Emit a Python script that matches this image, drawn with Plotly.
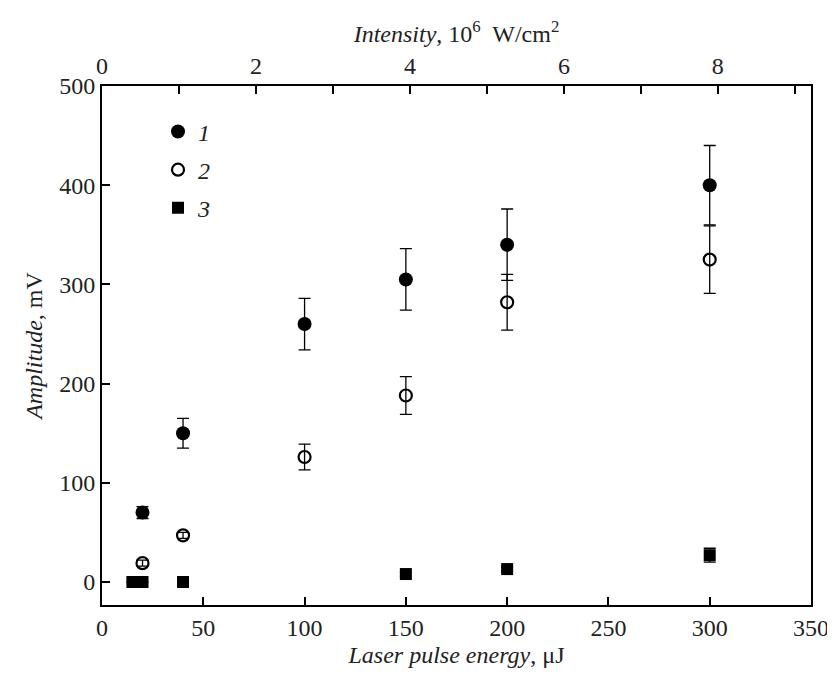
import plotly.graph_objects as go

energy1 = [20, 40, 100, 150, 200, 300]
amp1 = [70, 150, 260, 305, 340, 400]
err1 = [6, 15, 26, 31, 36, 40]

energy2 = [20, 40, 100, 150, 200, 300]
amp2 = [19, 47, 126, 188, 282, 325]
err2 = [3, 3, 13, 19, 28, 34]

energy3 = [15, 20, 40, 150, 200, 300]
amp3 = [0, 0, 0, 8, 13, 27]
err3 = [0, 0, 0, 2, 2, 7]

x_ticks = [0, 50, 100, 150, 200, 250, 300, 350]
y_ticks = [0, 100, 200, 300, 400, 500]
top_ticks = [0, 2, 4, 6, 8]
top_minor_ticks = [1, 3, 5, 7, 9]

FONT = "Liberation Serif, Times New Roman, serif"
fig = go.Figure()

def eb(arr):
    return dict(type="data", array=arr, visible=True, color="black", thickness=1.3, width=6)

fig.add_trace(go.Scatter(x=energy1, y=amp1, mode="markers", name="<i>1</i>", legendgroup="1",
                         error_y=eb(err1),
                         marker=dict(symbol="circle", size=14, color="black")))
fig.add_trace(go.Scatter(x=energy2, y=amp2, mode="markers", name="<i>2</i>", legendgroup="2",
                         error_y=eb(err2),
                         marker=dict(symbol="circle-open", size=12, color="black", line=dict(width=2.2, color="black"))))
fig.add_trace(go.Scatter(x=energy3, y=amp3, mode="markers", name="<i>3</i>", legendgroup="3",
                         error_y=eb(err3),
                         marker=dict(symbol="square", size=12, color="black")))
fig.add_trace(go.Scatter(x=[None], y=[None], xaxis="x2", showlegend=False, hoverinfo="skip", mode="markers"))

axis_common = dict(showline=True, linecolor="black", linewidth=2, ticks="inside", tickcolor="black",
                   ticklen=8, tickwidth=1.5, showgrid=False, zeroline=False, automargin=False,
                   tickfont=dict(family=FONT, size=24, color="#222"))

fig.update_layout(
    width=827, height=669,
    margin=dict(l=94, r=24, t=78, b=72),
    paper_bgcolor="white", plot_bgcolor="white",
    font=dict(family=FONT, size=24, color="#222"),
    xaxis=dict(range=[0, 350], tickvals=x_ticks, **axis_common,
               title=dict(text="<i>Laser pulse energy</i>, μJ", font=dict(family=FONT, size=24), standoff=6)),
    xaxis2=dict(range=[0, 9.21], overlaying="x", side="top", anchor="y", tickvals=top_ticks,
                minor=dict(tickvals=top_minor_ticks, ticks="inside", ticklen=8, tickwidth=1.5, tickcolor="black", showgrid=False),
                **axis_common,
                title=dict(text="<i>Intensity</i>, 10<sup>6</sup>  W/cm<sup>2</sup>", font=dict(family=FONT, size=24), standoff=4)),
    yaxis=dict(range=[-23.2, 500], tickvals=y_ticks, mirror=True, **axis_common,
               title=dict(text="<i>Amplitude</i>, mV", font=dict(family=FONT, size=24), standoff=10)),
    legend=dict(x=0.079, y=0.955, xanchor="left", yanchor="top", bgcolor="rgba(0,0,0,0)",
                font=dict(family=FONT, size=24, color="#222"), tracegroupgap=4, itemwidth=30),
    showlegend=True,
)

fig.write_html("out.html")
